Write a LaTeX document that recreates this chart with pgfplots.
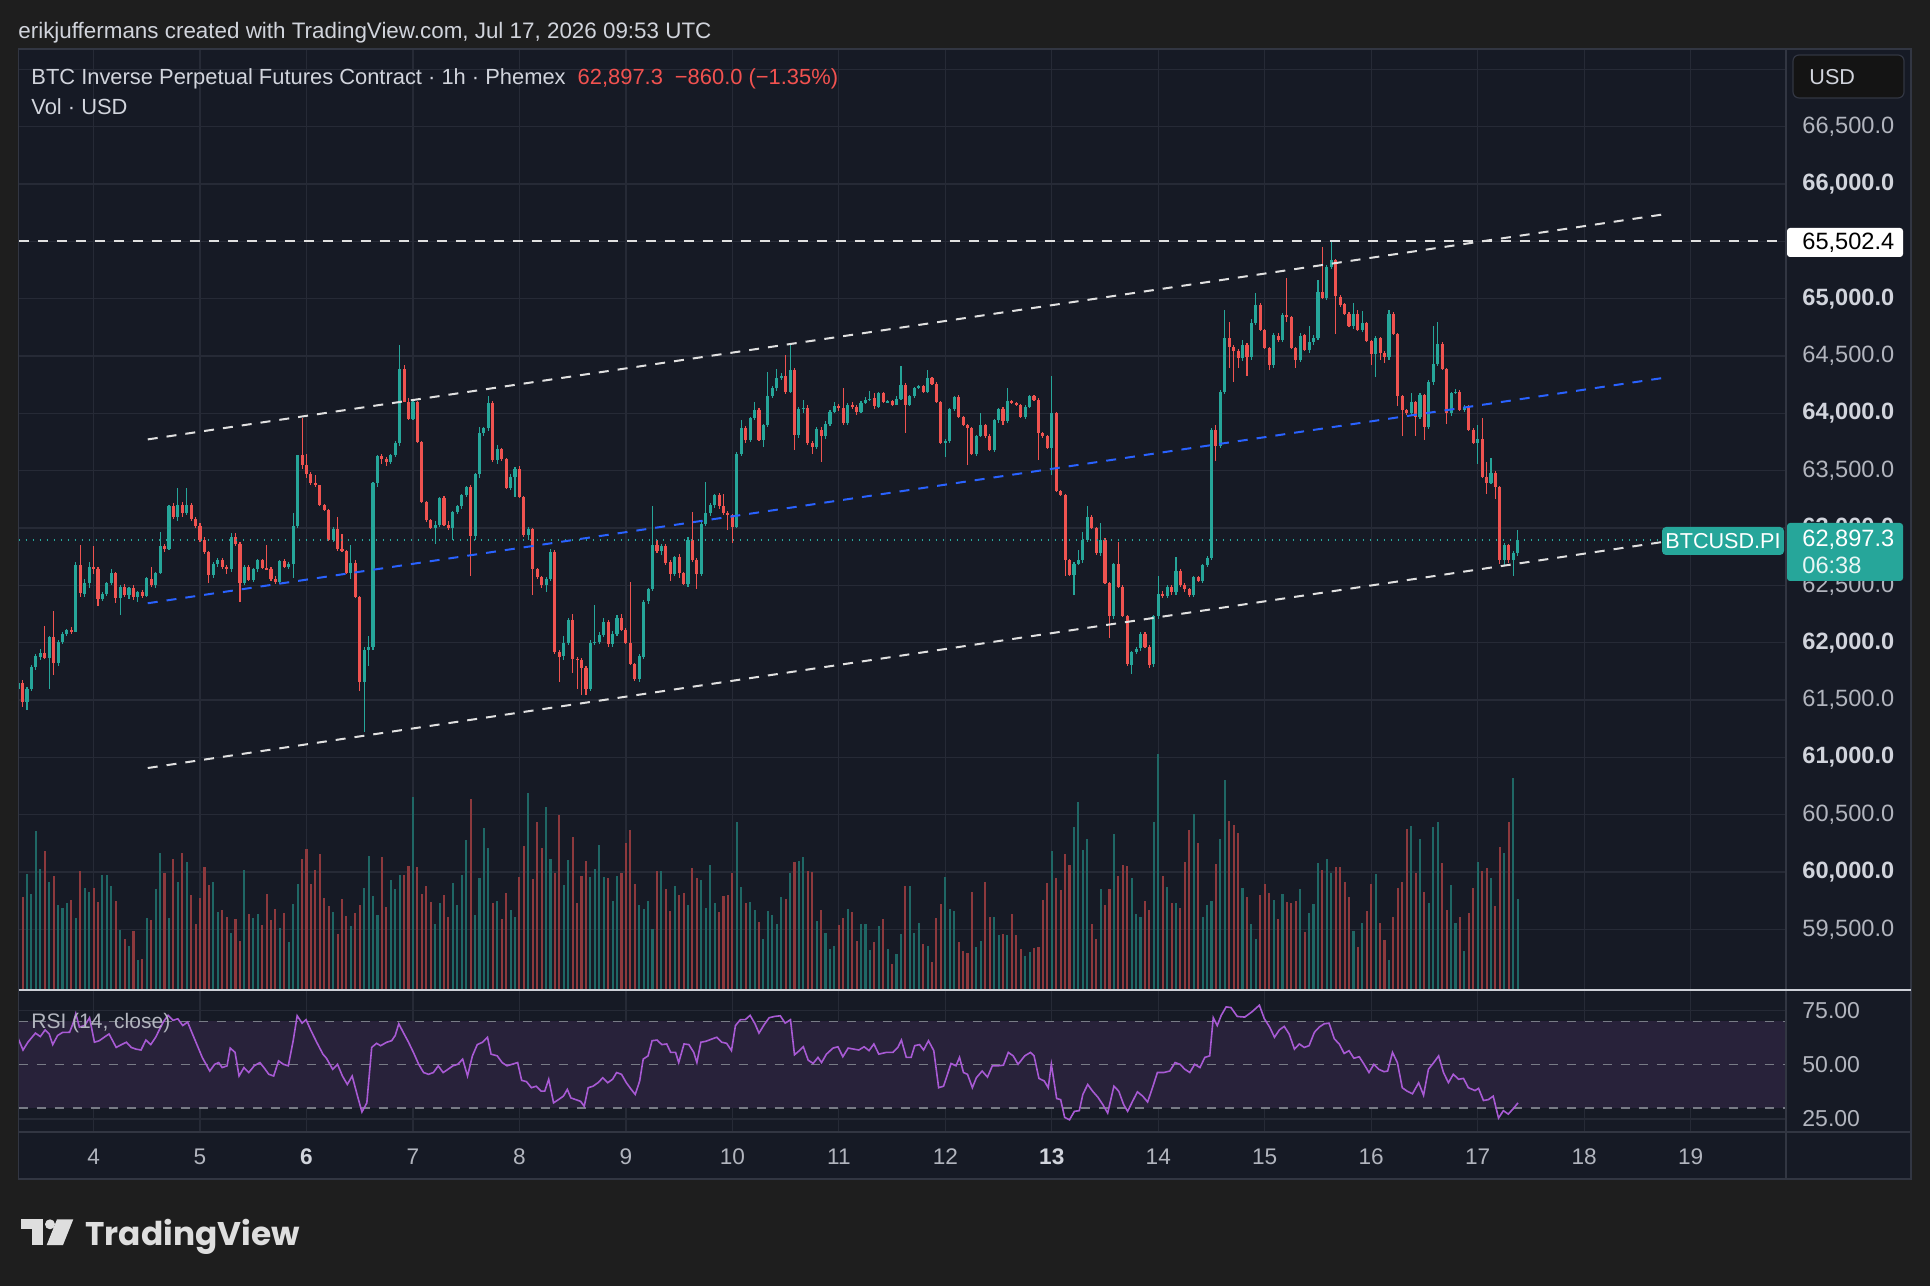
\documentclass[border=0pt]{standalone}
\usepackage{pgfplots}
\pgfplotsset{compat=1.18}
\usepackage{pgfplotstable}
\usepackage{fontspec}
\setmainfont{Liberation Sans}
\newfontfamily\logofont{Poppins}
\definecolor{outerbg}{RGB}{30,30,30}
\definecolor{bgc}{RGB}{22,26,37}
\definecolor{gridc}{RGB}{38,42,54}
\definecolor{framec}{RGB}{50,54,66}
\definecolor{upc}{RGB}{38,166,154}
\definecolor{dnc}{RGB}{239,83,80}
\colorlet{volup}{upc!55!bgc}
\colorlet{voldn}{dnc!55!bgc}
\definecolor{txt}{RGB}{178,181,190}
\definecolor{txtb}{RGB}{209,212,220}
\definecolor{rsic}{RGB}{168,90,212}
\colorlet{rsiband}{rsic!12!bgc}
\definecolor{chblue}{RGB}{41,98,255}
\definecolor{redtxt}{RGB}{242,82,80}
\definecolor{dashc}{RGB}{120,123,134}
\definecolor{sepc}{RGB}{205,208,215}
\definecolor{logoc}{RGB}{222,222,222}

\pgfplotstableread{
o h l c v
61600 61760 61560 61650 86
61650 61680 61440 61480 93
61480 61610 61410 61600 116
61600 61810 61580 61790 96
61790 61900 61760 61880 159
61880 61950 61850 61910 121
61910 62150 61860 61870 139
61870 62060 61600 62050 108
62050 62280 61720 61820 114
61820 62020 61800 62010 85
62010 62090 61990 62080 82
62080 62120 62060 62110 87
62110 62140 62080 62095 90
62095 62700 62090 62680 72
62680 62850 62400 62430 119
62430 62560 62400 62520 102
62520 62700 62480 62660 98
62660 62840 62600 62640 102
62640 62660 62320 62380 88
62380 62440 62360 62430 115
62430 62530 62410 62520 115
62520 62640 62500 62610 104
62610 62620 62350 62390 89
62390 62500 62240 62490 60
62490 62510 62400 62420 51
62420 62490 62380 62480 44
62480 62500 62370 62400 59
62400 62450 62360 62440 30
62440 62460 62390 62410 31
62410 62570 62400 62560 72
62560 62660 62490 62500 70
62500 62620 62480 62610 101
62610 62970 62600 62840 137
62840 62860 62790 62820 117
62820 63200 62810 63190 72
63190 63220 63080 63100 131
63100 63350 63060 63200 108
63200 63230 63100 63130 137
63130 63350 63110 63200 128
63200 63220 63060 63080 95
63080 63100 63000 63020 66
63020 63040 62880 62900 92
62900 62920 62770 62790 123
62790 62800 62520 62590 105
62590 62700 62560 62690 108
62690 62740 62660 62720 78
62720 62740 62640 62660 80
62660 62680 62600 62640 73
62640 62960 62620 62920 57
62920 62960 62840 62860 71
62860 62880 62360 62520 49
62520 62680 62500 62660 120
62660 62680 62540 62550 76
62550 62650 62530 62640 72
62640 62730 62620 62720 76
62720 62730 62640 62650 65
62650 62850 62630 62640 96
62640 62660 62540 62560 70
62560 62580 62510 62530 81
62530 62720 62510 62710 62
62710 62730 62650 62660 77
62660 62700 62640 62690 48
62690 63130 62560 63020 86
63020 63640 63000 63640 106
63640 63960 63520 63550 131
63550 63650 63440 63470 141
63470 63490 63380 63390 106
63390 63460 63360 63375 120
63375 63380 63190 63200 136
63200 63210 63150 63160 92
63160 63170 62890 62900 84
62900 63010 62880 62990 78
62990 63100 62800 62820 56
62820 62950 62790 62800 91
62800 62810 62600 62610 74
62610 62850 62560 62700 64
62700 62720 62390 62400 77
62400 62410 61580 61660 85
61660 61960 61220 61940 102
61940 62060 61800 61960 134
61960 63400 61940 63390 94
63390 63640 63360 63630 75
63630 63650 63560 63600 133
63600 63620 63540 63580 83
63580 63650 63560 63640 110
63640 63760 63620 63740 101
63740 64600 63720 64390 115
64390 64420 64100 64100 115
64100 64130 63940 63950 124
63950 64110 63940 64100 193
64100 64110 63740 63750 123
63750 63760 63220 63230 96
63230 63240 63050 63070 104
63070 63080 62990 63000 88
63000 63060 62860 63030 66
63030 63270 63010 63260 87
63260 63280 63020 63030 95
63030 63060 62980 63000 73
63000 63150 62900 63140 107
63140 63200 63120 63190 85
63190 63300 63170 63290 115
63290 63370 63270 63360 150
63360 63380 62580 62930 191
62930 63480 62900 63470 75
63470 63880 63440 63830 112
63830 63880 63800 63870 162
63870 64150 63850 64090 142
64090 64110 63580 63590 87
63590 63720 63560 63690 89
63690 63700 63590 63600 71
63600 63610 63340 63350 97
63350 63470 63330 63450 80
63450 63530 63270 63520 73
63520 63540 63260 63270 113
63270 63280 62920 62940 144
62940 63010 62900 62990 197
62990 63000 62420 62640 111
62640 62650 62560 62570 168
62570 62580 62480 62500 142
62500 62570 62440 62560 183
62560 62820 62540 62790 131
62790 62810 61900 61920 117
61920 61940 61660 61880 175
61880 62060 61850 62000 105
62000 62220 61980 62200 130
62200 62250 61740 61860 153
61860 61880 61600 61850 87
61850 61870 61540 61780 114
61780 61800 61540 61600 129
61600 62020 61580 62000 113
62000 62330 61980 62010 121
62010 62090 61990 62070 145
62070 62220 62050 62180 113
62180 62200 61960 61990 112
61990 62100 61960 62080 89
62080 62240 62060 62220 114
62220 62250 62100 62110 117
62110 62130 61990 62000 147
62000 62530 61810 61810 160
61810 61820 61670 61680 106
61680 61900 61660 61880 85
61880 62370 61860 62360 81
62360 62480 62340 62470 89
62470 63190 62450 62850 61
62850 62900 62780 62800 119
62800 62860 62770 62840 119
62840 62860 62680 62700 101
62700 62720 62540 62600 79
62600 62760 62580 62750 104
62750 62770 62560 62610 95
62610 62620 62500 62510 97
62510 62920 62490 62900 85
62900 63140 62700 62720 122
62720 62740 62470 62600 112
62600 63060 62580 63040 110
63040 63400 63020 63130 82
63130 63220 63110 63200 125
63200 63300 63180 63290 87
63290 63310 63170 63190 78
63190 63300 63110 63130 94
63130 63150 62980 63110 95
63110 63120 62870 63010 117
63010 63660 63000 63650 168
63650 63940 63630 63870 103
63870 63890 63740 63770 87
63770 63970 63750 63960 88
63960 64100 63940 64030 80
64030 64050 63760 63770 68
63770 63910 63710 63900 51
63900 64360 63880 64150 79
64150 64240 64130 64220 75
64220 64390 64200 64310 66
64310 64350 64290 64330 93
64330 64510 64170 64190 91
64190 64600 64180 64380 117
64380 64400 63680 63810 128
63810 64060 63790 64040 129
64040 64120 64000 64050 133
64050 64070 63720 63740 119
63740 63760 63650 63710 118
63710 63880 63690 63860 69
63860 63880 63580 63800 80
63800 63930 63780 63910 57
63910 64030 63890 64015 41
64015 64100 64000 64070 44
64070 64080 64020 64045 65
64045 64220 63900 63915 72
63915 64090 63900 64070 81
64070 64100 64040 64060 78
64060 64070 63990 64015 49
64015 64110 64000 64090 66
64090 64140 64080 64120 66
64120 64200 64110 64130 40
64130 64180 64040 64060 48
64060 64190 64050 64175 64
64175 64190 64090 64100 71
64100 64120 64090 64105 41
64105 64120 64060 64075 26
64075 64150 64070 64130 36
64130 64410 64120 64250 56
64250 64270 63830 64075 104
64075 64160 64060 64150 104
64150 64230 64130 64220 57
64220 64250 64210 64235 67
64235 64250 64180 64190 46
64190 64380 64180 64310 44
64310 64320 64250 64260 28
64260 64270 64090 64100 72
64100 64110 63730 63740 86
63740 63780 63620 63760 113
63760 64050 63740 64040 81
64040 64150 64020 64140 79
64140 64160 63960 63970 48
63970 63980 63890 63900 39
63900 63910 63550 63870 37
63870 63880 63640 63650 98
63650 63810 63630 63800 43
63800 64000 63790 63900 49
63900 63910 63790 63800 108
63800 63820 63670 63680 73
63680 63950 63660 63940 73
63940 64050 63920 64040 55
64040 64060 63900 63930 56
63930 64220 63920 64110 55
64110 64120 64080 64090 76
64090 64100 64060 64070 55
64070 64080 63960 63970 41
63970 64070 63950 64060 34
64060 64160 64050 64150 38
64150 64160 64110 64120 42
64120 64130 63590 63830 43
63830 63840 63790 63800 90
63800 63810 63690 63700 107
63700 64330 63460 64000 139
64000 64010 63310 63320 112
63320 63330 63280 63290 100
63290 63300 62580 62720 136
62720 62730 62580 62590 125
62590 62700 62420 62690 163
62690 62810 62680 62720 188
62720 62970 62700 62900 140
62900 63190 62880 63100 151
63100 63110 62990 63000 66
63000 63010 62770 62780 51
62780 63040 62760 62900 101
62900 62910 62510 62520 85
62520 62530 62040 62230 101
62230 62700 62210 62690 156
62690 62880 62480 62490 114
62490 62500 62220 62230 125
62230 62240 61800 61810 124
61810 61930 61730 61920 112
61920 61960 61900 61950 76
61950 62090 61930 62080 73
62080 62090 61950 61966 89
61966 61980 61780 61810 80
61810 62240 61790 62230 168
62230 62580 62210 62430 236
62430 62450 62390 62410 114
62410 62500 62390 62490 103
62490 62500 62420 62440 87
62440 62750 62420 62630 87
62630 62640 62490 62500 82
62500 62520 62440 62470 128
62470 62480 62400 62420 160
62420 62580 62400 62570 176
62570 62580 62530 62540 147
62540 62690 62520 62680 73
62680 62760 62660 62740 85
62740 63870 62720 63855 89
63855 63900 63590 63720 126
63720 64200 63700 64190 151
64190 64900 64170 64655 210
64655 64800 64400 64580 169
64580 64600 64270 64540 165
64540 64560 64400 64480 157
64480 64640 64460 64600 102
64600 64610 64330 64490 93
64490 64820 64470 64790 66
64790 65050 64770 64946 51
64946 64960 64720 64730 95
64730 64740 64560 64570 106
64570 64580 64380 64420 97
64420 64700 64400 64680 90
64680 64700 64620 64640 71
64640 64880 64620 64860 96
64860 65180 64800 64840 88
64840 64850 64560 64570 87
64570 64580 64400 64470 89
64470 64700 64450 64680 101
64680 64690 64540 64550 58
64550 64760 64530 64620 77
64620 64680 64600 64660 86
64660 65160 64640 65060 127
65060 65450 65000 65010 120
65010 65290 64990 65280 131
65280 65500 65260 65340 117
65340 65350 64690 65020 123
65020 65030 64930 64950 123
64950 64960 64860 64870 108
64870 64880 64750 64760 93
64760 64960 64740 64870 59
64870 64900 64720 64730 43
64730 64890 64710 64790 67
64790 64800 64620 64630 79
64630 64640 64420 64520 106
64520 64680 64320 64660 116
64660 64670 64470 64530 67
64530 64540 64440 64490 50
64490 64900 64470 64870 30
64870 64880 64680 64690 73
64690 64700 64060 64150 102
64150 64160 63800 64030 108
64030 64040 63990 64000 161
64000 64175 63990 64100 164
64100 64110 63800 63970 117
63970 64180 63950 64160 151
64160 64170 63770 63880 98
63880 64290 63860 64270 87
64270 64760 64250 64430 163
64430 64800 64410 64610 168
64610 64620 64380 64390 127
64390 64400 63910 64000 80
64000 64190 63980 64180 105
64180 64210 64170 64190 67
64190 64200 64020 64030 73
64030 64070 64010 64060 39
64060 64070 63850 63860 77
63860 63870 63730 63740 102
63740 63900 63560 63780 128
63780 63960 63440 63450 119
63450 63580 63300 63390 122
63390 63610 63380 63480 112
63480 63500 63250 63360 84
63360 63370 62690 62720 143
62720 62870 62670 62850 137
62850 62860 62700 62720 168
62720 62800 62580 62780 212
62780 62980 62760 62897.3 91
}\candles

\pgfplotstableread{
j r
0.0 62.2
1.1 56.8
2.2 60.4
3.9 64.6
5.0 63.0
6.1 66.1
7.0 64.2
7.8 59.3
8.9 63.5
10.0 64.9
11.6 65.0
12.4 69.2
13.0 73.6
13.8 67.4
15.0 68.1
16.1 71.7
17.2 60.4
18.3 61.1
19.4 62.7
20.5 64.2
22.1 58.0
23.3 59.3
24.4 60.4
25.5 58.0
26.6 57.2
27.7 56.8
28.8 61.4
29.9 59.3
31.0 62.7
32.7 69.7
33.8 72.8
34.9 70.5
36.0 71.2
37.1 68.1
38.2 69.7
39.3 64.2
40.4 58.8
41.5 53.4
43.2 47.1
44.3 50.2
45.2 51.0
46.0 48.7
47.1 49.5
47.8 57.7
48.9 55.7
49.8 44.8
50.9 48.7
52.0 46.4
53.2 49.5
54.5 51.0
55.4 48.7
56.5 45.6
57.6 44.8
58.7 51.8
59.8 50.2
60.9 49.5
62.0 61.1
62.9 72.6
64.0 69.2
64.9 70.8
66.0 65.8
67.3 60.4
68.7 54.9
69.5 53.0
70.9 47.9
72.0 50.2
73.1 44.8
74.2 40.9
75.3 44.8
76.4 36.3
77.5 28.2
78.6 32.4
79.7 58.0
80.8 59.9
81.7 58.8
83.1 60.4
84.2 61.1
85.0 63.5
85.8 68.9
86.9 64.6
88.0 60.4
89.1 55.7
90.3 50.2
91.4 46.4
92.5 45.6
93.6 46.4
94.7 49.5
95.8 46.4
96.9 47.9
98.0 49.5
99.1 50.2
100.2 52.6
101.3 44.8
102.4 54.1
103.5 59.3
104.7 60.4
105.8 62.7
106.6 54.9
108.0 54.1
109.1 51.0
110.2 49.5
111.3 50.2
112.6 51.0
113.5 42.8
114.6 42.2
115.7 39.4
116.8 40.1
117.9 37.8
118.7 37.8
119.6 43.3
120.7 32.4
121.8 33.9
122.9 35.5
123.8 38.6
124.6 34.7
125.7 33.9
126.8 33.1
127.6 30.8
128.5 39.4
129.6 40.1
130.7 41.7
131.8 44.0
132.9 41.7
134.0 43.3
134.9 46.4
136.0 45.6
137.1 41.7
138.2 38.6
139.1 36.3
140.1 42.5
140.9 52.6
142.0 54.1
142.9 61.1
144.0 61.4
145.1 59.3
146.2 59.6
147.1 55.7
148.2 55.7
148.9 51.0
150.1 59.6
151.2 59.3
152.3 55.7
153.0 51.0
153.9 60.4
155.0 60.8
156.4 61.9
157.5 62.7
158.6 60.4
159.7 59.9
160.8 56.5
161.7 68.1
162.8 70.8
163.9 70.8
165.0 72.8
166.1 68.9
167.0 64.6
168.2 68.6
169.3 71.7
170.5 72.3
171.8 72.6
172.9 69.2
174.1 70.8
175.0 54.6
176.1 56.5
177.0 58.3
178.1 52.1
179.2 50.6
180.3 53.4
181.1 51.0
182.2 54.9
183.7 57.7
184.8 58.3
185.9 53.7
187.1 57.7
188.4 57.2
189.5 56.8
190.7 58.3
191.8 56.5
192.9 59.6
194.0 54.9
195.7 55.7
197.2 55.7
198.3 58.0
199.1 61.4
200.2 53.4
201.3 53.4
202.1 58.8
203.2 59.3
204.1 56.8
205.2 61.1
206.4 56.5
207.5 39.4
208.6 40.1
210.3 50.6
211.4 49.5
212.2 53.4
213.1 46.4
214.0 45.6
215.1 39.4
216.0 44.0
217.3 47.1
218.5 44.3
219.6 49.5
220.9 49.5
222.1 49.8
223.2 55.7
224.3 54.1
225.4 50.2
226.9 54.1
228.2 55.7
229.0 54.1
230.1 43.7
231.3 42.5
232.2 39.4
232.9 50.2
234.1 34.4
235.0 33.9
235.9 25.7
237.0 24.6
238.1 28.5
239.2 28.8
240.0 36.3
241.1 40.9
242.2 37.8
243.4 35.0
244.5 31.6
245.6 27.7
247.0 40.1
248.1 37.8
249.2 31.6
250.1 28.5
251.2 33.1
252.3 37.5
253.5 35.5
254.6 32.8
255.7 39.4
256.8 46.4
258.2 46.4
259.6 47.1
260.8 51.0
261.9 50.2
263.0 47.9
264.1 46.4
265.2 50.2
266.4 48.7
267.5 53.4
268.6 54.1
269.4 71.7
270.3 68.1
271.2 72.8
272.3 76.7
273.4 76.4
274.8 72.3
276.5 72.0
278.1 74.4
279.8 77.5
280.9 71.3
282.1 67.4
283.2 62.7
284.3 66.1
285.4 67.7
286.5 64.2
287.7 57.2
288.8 59.6
289.9 58.0
291.0 58.8
292.2 65.0
293.3 67.4
294.4 68.9
295.5 69.2
296.7 61.9
297.8 59.6
298.9 55.2
300.0 56.5
301.1 53.0
302.3 53.7
303.4 50.2
304.5 46.4
305.6 50.2
306.7 47.9
307.9 46.8
308.7 47.1
309.8 55.7
310.9 51.0
312.0 39.4
313.1 37.8
314.3 36.6
315.7 41.7
316.8 35.9
317.9 47.9
319.1 51.0
320.2 54.1
321.3 46.4
322.4 41.7
323.5 45.6
324.7 43.3
325.8 43.7
326.9 39.4
328.4 38.1
329.2 39.1
330.3 33.5
331.4 33.9
332.5 35.5
333.7 25.4
334.8 28.8
335.9 27.2
337.0 29.7
338.1 32.4
}\rsidata

\pgfplotsset{
  tvbase/.style={scale only axis, width=883.75pt, xmin=3.2951, xmax=19.896, anchor=north west,
    scaled y ticks=false, scaled x ticks=false},
  upf/.style={restrict expr to domain={\thisrow{c}-\thisrow{o}}{0:1000000}},
  dnf/.style={restrict expr to domain={\thisrow{c}-\thisrow{o}}{-1000000:-0.001}},
  nomark/.style={draw=none, mark=none, mark size=0pt, mark options={draw=none, fill=none}, forget plot},
}

\begin{document}
\begin{tikzpicture}
\useasboundingbox (0,0) rectangle (965pt,643pt);
\fill[outerbg] (0,0) rectangle (965pt,643pt);
\begin{scope}[x=0.5pt,y=-0.5pt,shift={(0pt,643pt)}]
  \fill[bgc] (18.5,49) rectangle (1911,1179);
\end{scope}

% grid layer
\begin{axis}[tvbase, at={(9.25pt,618.5pt)}, height=470.5pt, ymin=58971, ymax=67178,
  xtick={4,...,19}, ytick={59500,60000,...,67000}, xticklabels={}, yticklabels={},
  grid=major, major grid style={draw=gridc, line width=0.6pt},
  axis line style={draw=none}, tick style={draw=none}]
  \addplot[nomark] coordinates {(4,60000)};
\end{axis}

% volume layer
\begin{axis}[tvbase, at={(9.25pt,618.5pt)}, height=470.5pt, ymin=0, ymax=941, hide axis]
  \addplot[upf, nomark, error bars/.cd, y dir=minus, y explicit, error mark=none,
    error bar style={line width=1.05pt, draw=volup}]
    table[x expr={3+(7+\coordindex)/24}, y=v, y error minus expr={\thisrow{v}}] {\candles};
  \addplot[dnf, nomark, error bars/.cd, y dir=minus, y explicit, error mark=none,
    error bar style={line width=1.05pt, draw=voldn}]
    table[x expr={3+(7+\coordindex)/24}, y=v, y error minus expr={\thisrow{v}}] {\candles};
\end{axis}

% price layer
\begin{axis}[tvbase, at={(9.25pt,618.5pt)}, height=470.5pt, ymin=58971, ymax=67178,
  axis line style={draw=none}, tick style={draw=none},
  xtick=\empty, ytick={59500,60000,...,67000}, yticklabel pos=right,
  yticklabels={{59,500.0},{\color{txtb}\bfseries 60,000.0},{60,500.0},{\color{txtb}\bfseries 61,000.0},{61,500.0},{\color{txtb}\bfseries 62,000.0},{62,500.0},{\color{txtb}\bfseries 63,000.0},{63,500.0},{\color{txtb}\bfseries 64,000.0},{64,500.0},{\color{txtb}\bfseries 65,000.0},{65,500.0},{\color{txtb}\bfseries 66,000.0},{66,500.0},{}},
  yticklabel style={anchor=west, inner sep=0pt, xshift=8pt, font=\fontsize{11.8}{14}\selectfont, text=txt}]
  % wicks
  \addplot[upf, nomark, error bars/.cd, y dir=both, y explicit, error mark=none,
    error bar style={line width=0.55pt, draw=upc}]
    table[x expr={3+(7+\coordindex)/24}, y expr={(\thisrow{h}+\thisrow{l})/2}, y error expr={(\thisrow{h}-\thisrow{l})/2}] {\candles};
  \addplot[dnf, nomark, error bars/.cd, y dir=both, y explicit, error mark=none,
    error bar style={line width=0.55pt, draw=dnc}]
    table[x expr={3+(7+\coordindex)/24}, y expr={(\thisrow{h}+\thisrow{l})/2}, y error expr={(\thisrow{h}-\thisrow{l})/2}] {\candles};
  % bodies
  \addplot[upf, nomark, error bars/.cd, y dir=both, y explicit, error mark=none,
    error bar style={line width=1.55pt, draw=upc}]
    table[x expr={3+(7+\coordindex)/24}, y expr={(\thisrow{o}+\thisrow{c})/2}, y error expr={max(abs(\thisrow{c}-\thisrow{o})/2,5)}] {\candles};
  \addplot[dnf, nomark, error bars/.cd, y dir=both, y explicit, error mark=none,
    error bar style={line width=1.55pt, draw=dnc}]
    table[x expr={3+(7+\coordindex)/24}, y expr={(\thisrow{o}+\thisrow{c})/2}, y error expr={max(abs(\thisrow{c}-\thisrow{o})/2,5)}] {\candles};
  % levels and channel
  \addplot[upc, line width=0.9pt, dash pattern=on 0.9pt off 2.6pt] coordinates {(3.2951,62897.3) (19.896,62897.3)};
  \addplot[white!88!black, line width=1pt, dash pattern=on 5pt off 4.5pt] coordinates {(3.2951,65502.4) (19.896,65502.4)};
  \addplot[white!88!black, line width=1pt, dash pattern=on 5pt off 4.5pt] coordinates {(4.509,63773) (18.763,65738)};
  \addplot[chblue, line width=1pt, dash pattern=on 5pt off 4.5pt] coordinates {(4.509,62344) (18.763,64312)};
  \addplot[white!88!black, line width=1pt, dash pattern=on 5pt off 4.5pt] coordinates {(4.509,60907) (18.763,62882)};
\end{axis}

% RSI pane
\begin{axis}[tvbase, at={(9.25pt,148pt)}, height=71pt, ymin=18.95, ymax=84.5,
  xtick={4,...,19},
  xticklabels={4,5,{\color{txtb}\bfseries 6},7,8,9,10,11,12,{\color{txtb}\bfseries 13},14,15,16,17,18,19},
  ytick={25,50,75}, yticklabels={25.00,50.00,75.00}, yticklabel pos=right,
  grid=major, major grid style={draw=gridc, line width=0.6pt},
  axis line style={draw=none}, tick style={draw=none},
  xticklabel style={anchor=center, inner sep=0pt, yshift=-12.5pt, font=\fontsize{11.3}{13}\selectfont, text=txt},
  yticklabel style={anchor=west, inner sep=0pt, xshift=8pt, font=\fontsize{11.5}{13}\selectfont, text=txt}]
  \addplot[fill=rsiband, draw=none] coordinates {(3.2951,30) (19.896,30) (19.896,70) (3.2951,70)} -- cycle;
  \addplot[dashc, line width=0.6pt, dash pattern=on 4.5pt off 4.5pt] coordinates {(3.2951,70) (19.896,70)};
  \addplot[dashc, line width=0.6pt, dash pattern=on 4.5pt off 4.5pt] coordinates {(3.2951,50) (19.896,50)};
  \addplot[dashc, line width=0.6pt, dash pattern=on 4.5pt off 4.5pt] coordinates {(3.2951,30) (19.896,30)};
  \addplot[rsic, line width=0.8pt] table[x expr={3+(7+\thisrow{j})/24}, y=r] {\rsidata};
\end{axis}

\begin{scope}[x=0.5pt,y=-0.5pt,shift={(0pt,643pt)}]
  % frame
  \draw[framec, line width=0.6pt] (18.5,49) rectangle (1911,1179);
  \draw[framec, line width=0.6pt] (1786,49) -- (1786,1179);
  \draw[framec, line width=0.6pt] (18.5,1132) -- (1911,1132);
  \draw[sepc, line width=1pt] (18.5,990) -- (1911,990);
  % header
  \node[anchor=base west, inner sep=0pt, text=txtb, font=\fontsize{11.2}{13}\selectfont] at (18,38.5)
    {erikjuffermans created with TradingView.com, Jul 17, 2026 09:53 UTC};
  \node[anchor=base west, inner sep=0pt, font=\fontsize{10.95}{13}\selectfont] at (31,85)
    {\color{txtb}BTC Inverse Perpetual Futures Contract · 1h · Phemex\hspace{6pt}\color{redtxt}62,897.3\hspace{6pt}−860.0 (−1.35\%)};
  \node[anchor=base west, inner sep=0pt, text=txtb, font=\fontsize{10.95}{13}\selectfont] at (31,115) {Vol · USD};
  \node[anchor=west, inner sep=0pt, text=txt, font=\fontsize{10.5}{12}\selectfont] at (31,1023) {RSI (14, close)};
  % price scale boxes
  \draw[fill=black!92!white, draw=framec, line width=0.6pt, rounded corners=3pt] (1793,55) rectangle (1904,98);
  \node[anchor=west, inner sep=0pt, text=txtb, font=\fontsize{10.8}{12}\selectfont] at (1809,77) {USD};
  \fill[white, rounded corners=1.5pt] (1787,228) rectangle (1903,257);
  \node[anchor=west, inner sep=0pt, text=black, font=\fontsize{11.8}{14}\selectfont] at (1802,242.5) {65,502.4};
  \fill[upc, rounded corners=2pt] (1662,527) rectangle (1784,555);
  \node[inner sep=0pt, text=white, font=\fontsize{10.8}{12}\selectfont] at (1723,541) {BTCUSD.PI};
  \fill[upc, rounded corners=1.5pt] (1787,523) rectangle (1903,581);
  \node[anchor=west, inner sep=0pt, text=white, font=\fontsize{11.8}{14}\selectfont] at (1802,540) {62,897.3};
  \node[anchor=west, inner sep=0pt, text=white!90!upc, font=\fontsize{11.8}{14}\selectfont] at (1802,565) {06:38};
  % logo
  \fill[logoc] (20.7,1219.3) rectangle (42.7,1229.3);
  \fill[logoc] (31.7,1219.3) rectangle (42.7,1245);
  \fill[logoc] (50,1224.3) circle[radius=2.5pt];
  \fill[logoc] (57,1219.3) -- (73.3,1219.3) -- (63,1245) -- (46.7,1245) -- cycle;
  \node[anchor=base west, inner sep=0pt, text=logoc, font=\logofont\bfseries\fontsize{16.4}{19}\selectfont] at (85,1245) {TradingView};
\end{scope}
\end{tikzpicture}
\end{document}
